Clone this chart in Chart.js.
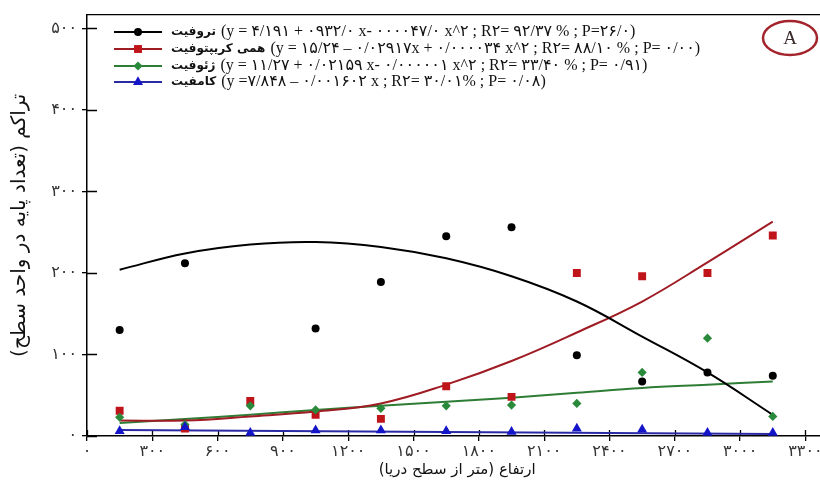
<!DOCTYPE html>
<html>
<head>
<meta charset="utf-8">
<script src="https://cdn.jsdelivr.net/npm/chart.js@4/dist/chart.umd.min.js"></script>
<style>
  html, body { margin: 0; padding: 0; background: #fff; overflow: hidden; }
</style>
</head>
<body>
<canvas id="chart" width="833" height="493" dir="rtl"></canvas>
<script>
// elevation of each sample (m)
const elevations = [150, 450, 750, 1050, 1350, 1650, 1950, 2250, 2550, 2850, 3150];

// observed density per life form
const therophyte = [130, 212, null, 132, 189, 245, 256, 99, 67, 78, 74];
const hemicrypto = [31, 9, 43, 26, 21, 61, 48, 200, 196, 200, 246];
const geophyte = [23, 14, 37, 32, 34, 37, 38, 40, 78, 120, 24];
const chamaephyte = [6, 11, 4, 7, 7, 6, 5, 9, 8, 4, 4];

// fitted curves
const therophyteFit = [204, 224, 235, 238, 232, 218, 196, 165, 122, 78, 26];
const hemicryptoFit = [19, 19, 24, 30, 40, 63, 92, 127, 165, 213, 263];
const geophyteFit = [16, 21, 26, 32, 37, 42, 47, 53, 59, 63, 67];
const chamaephyteFitX = [150, 3150];
const chamaephyteFit = [7.5, 2.5];

const xTicks = [0, 300, 600, 900, 1200, 1500, 1800, 2100, 2400, 2700, 3000, 3300];
const xTickLabels = ['۰', '۳۰۰', '۶۰۰', '۹۰۰', '۱۲۰۰', '۱۵۰۰', '۱۸۰۰', '۲۱۰۰', '۲۴۰۰', '۲۷۰۰', '۳۰۰۰', '۳۳۰۰'];
const yTicks = [0, 100, 200, 300, 400, 500];
const yTickLabels = ['۰', '۱۰۰', '۲۰۰', '۳۰۰', '۴۰۰', '۵۰۰'];

const seriesNames = ['تروفیت', 'همی کریپتوفیت', 'ژئوفیت', 'کامفیت'];
const equations = [
    '(y = ۴/۱۹۱ + ۰۹۳۲/۰ x- ۰۰۰۰۴۷/۰ x^۲ ; R۲= ۹۲/۳۷ % ; P=۲۶/۰)',
    '(y = ۱۵/۲۴ – ۰/۰۲۹۱۷x + ۰/۰۰۰۰۳۴ x^۲ ; R۲= ۸۸/۱۰ % ; P= ۰/۰۰)',
    '(y = ۱۱/۲۷ + ۰/۰۲۱۵۹ x- ۰/۰۰۰۰۰۱ x^۲ ; R۲= ۳۳/۴۰ % ; P= ۰/۹۱)',
    '(y =۷/۸۴۸ – ۰/۰۰۱۶۰۲ x ; R۲= ۳۰/۰۱% ; P= ۰/۰۸)'
];

const markerColors = ['#000000', '#c0141b', '#2a8a3c', '#1414c8'];
const lineColors = ['#000000', '#a01c24', '#2e7d34', '#2a2aa5'];
const markerStyles = ['circle', 'rect', 'rectRot', 'triangle'];
const markerSizes = [4, 5.6, 4.6, 5.8];

function pts(xs, ys) {
    return xs.map(function (x, i) { return {x: x, y: ys[i]}; });
}

function pointSet(data, k) {
    return {
        data: pts(elevations, data),
        showLine: false,
        pointStyle: markerStyles[k],
        pointRadius: markerSizes[k],
        backgroundColor: markerColors[k],
        borderColor: markerColors[k],
        borderWidth: 0,
        order: 3 - k
    };
}

function fitSet(xs, data, k) {
    return {
        data: pts(xs, data),
        showLine: true,
        pointRadius: 0,
        borderColor: lineColors[k],
        borderWidth: 2,
        tension: 0.4,
        order: 10 + k
    };
}

function drawMarker(ctx, style, x, y, r, color) {
    ctx.fillStyle = color;
    ctx.beginPath();
    if (style === 'circle') {
        ctx.arc(x, y, r, 0, Math.PI * 2);
    } else if (style === 'rect') {
        const s = r * Math.SQRT1_2;
        ctx.rect(x - s, y - s, 2 * s, 2 * s);
    } else if (style === 'rectRot') {
        ctx.moveTo(x, y - r); ctx.lineTo(x + r, y); ctx.lineTo(x, y + r); ctx.lineTo(x - r, y);
    } else {
        ctx.moveTo(x, y - r);
        ctx.lineTo(x + r * 0.866, y + r * 0.5);
        ctx.lineTo(x - r * 0.866, y + r * 0.5);
    }
    ctx.closePath();
    ctx.fill();
}

// inner half of the tick marks and the top frame line
const frame = {
    id: 'frame',
    beforeDatasetsDraw(chart) {
        const {ctx, chartArea: a, scales: {x, y}} = chart;
        ctx.save();
        ctx.strokeStyle = '#000';
        ctx.lineWidth = 1.3;
        ctx.beginPath();
        ctx.moveTo(a.left, a.top);
        ctx.lineTo(a.right, a.top);
        x.ticks.forEach(function (t) {
            const px = Math.round(x.getPixelForValue(t.value)) + 0.5;
            ctx.moveTo(px, a.bottom);
            ctx.lineTo(px, a.bottom - 6);
        });
        y.ticks.forEach(function (t) {
            const py = Math.round(y.getPixelForValue(t.value)) + 0.5;
            ctx.moveTo(a.left, py);
            ctx.lineTo(a.left + 10, py);
        });
        ctx.stroke();
        ctx.restore();
    }
};

// legend with equations, and the panel letter
const legendBox = {
    id: 'legendBox',
    afterDraw(chart) {
        const ctx = chart.ctx;
        ctx.save();
        ctx.direction = 'ltr';
        ctx.textAlign = 'left';
        ctx.textBaseline = 'middle';
        const rows = [32, 49, 66, 82];
        for (let k = 0; k < 4; k++) {
            const y = rows[k];
            ctx.strokeStyle = lineColors[k];
            ctx.lineWidth = 2;
            ctx.beginPath();
            ctx.moveTo(114, y);
            ctx.lineTo(162, y);
            ctx.stroke();
            drawMarker(ctx, markerStyles[k], 138, y, markerSizes[k], markerColors[k]);
            ctx.fillStyle = '#111';
            ctx.font = 'bold 12px "DejaVu Sans"';
            ctx.fillText(seriesNames[k], 171, y);
            const w = ctx.measureText(seriesNames[k]).width;
            ctx.font = '16px "Liberation Serif", "DejaVu Sans"';
            ctx.fillText(equations[k], 171 + w + 5, y);
        }

        ctx.strokeStyle = '#a3242c';
        ctx.lineWidth = 2.5;
        ctx.beginPath();
        ctx.ellipse(790, 38, 27, 17, 0, 0, Math.PI * 2);
        ctx.stroke();
        ctx.fillStyle = '#3a2a2a';
        ctx.textAlign = 'center';
        ctx.font = '19px "Liberation Serif"';
        ctx.fillText('A', 790, 39);
        ctx.restore();
    }
};

new Chart(document.getElementById('chart').getContext('2d'), {
    type: 'scatter',
    data: {
        datasets: [
            pointSet(therophyte, 0),
            pointSet(hemicrypto, 1),
            pointSet(geophyte, 2),
            pointSet(chamaephyte, 3),
            fitSet(elevations, therophyteFit, 0),
            fitSet(elevations, hemicryptoFit, 1),
            fitSet(elevations, geophyteFit, 2),
            fitSet(chamaephyteFitX, chamaephyteFit, 3)
        ]
    },
    options: {
        responsive: false,
        animation: false,
        devicePixelRatio: 1,
        layout: {padding: {top: 12, left: 0, right: 0, bottom: 0}},
        plugins: {legend: {display: false}, tooltip: {enabled: false}},
        scales: {
            x: {
                type: 'linear',
                min: 0,
                max: 3400,
                afterBuildTicks: function (s) { s.ticks = xTicks.map(function (v) { return {value: v}; }); },
                afterFit: function (s) { s.height = 57; },
                ticks: {
                    callback: function (v, i) { return xTickLabels[i]; },
                    font: {family: '"Liberation Serif", "DejaVu Sans"', size: 16},
                    color: '#333',
                    padding: 1,
                    maxRotation: 0,
                    autoSkip: false
                },
                grid: {drawOnChartArea: false, drawTicks: true, tickLength: 5, color: '#000', lineWidth: 1.3},
                border: {color: '#000', width: 1.5},
                title: {
                    display: true,
                    text: 'ارتفاع (متر از سطح دریا)',
                    font: {family: '"DejaVu Sans"', size: 15},
                    color: '#111',
                    padding: {top: 4, bottom: 14}
                }
            },
            y: {
                min: 0,
                max: 517,
                afterBuildTicks: function (s) { s.ticks = yTicks.map(function (v) { return {value: v}; }); },
                afterFit: function (s) { s.width = 87; },
                ticks: {
                    callback: function (v, i) { return yTickLabels[i]; },
                    font: {family: '"Liberation Serif", "DejaVu Sans"', size: 16},
                    color: '#333',
                    padding: 5
                },
                grid: {drawOnChartArea: false, drawTicks: true, tickLength: 5, color: '#000', lineWidth: 1.3},
                border: {color: '#000', width: 1.5},
                title: {
                    display: true,
                    text: 'تراکم (تعداد پایه در واحد سطح)',
                    font: {family: '"DejaVu Sans"', size: 20},
                    color: '#111',
                    padding: {top: 8, bottom: 0}
                }
            }
        }
    },
    plugins: [frame, legendBox]
});
</script>
</body>
</html>
